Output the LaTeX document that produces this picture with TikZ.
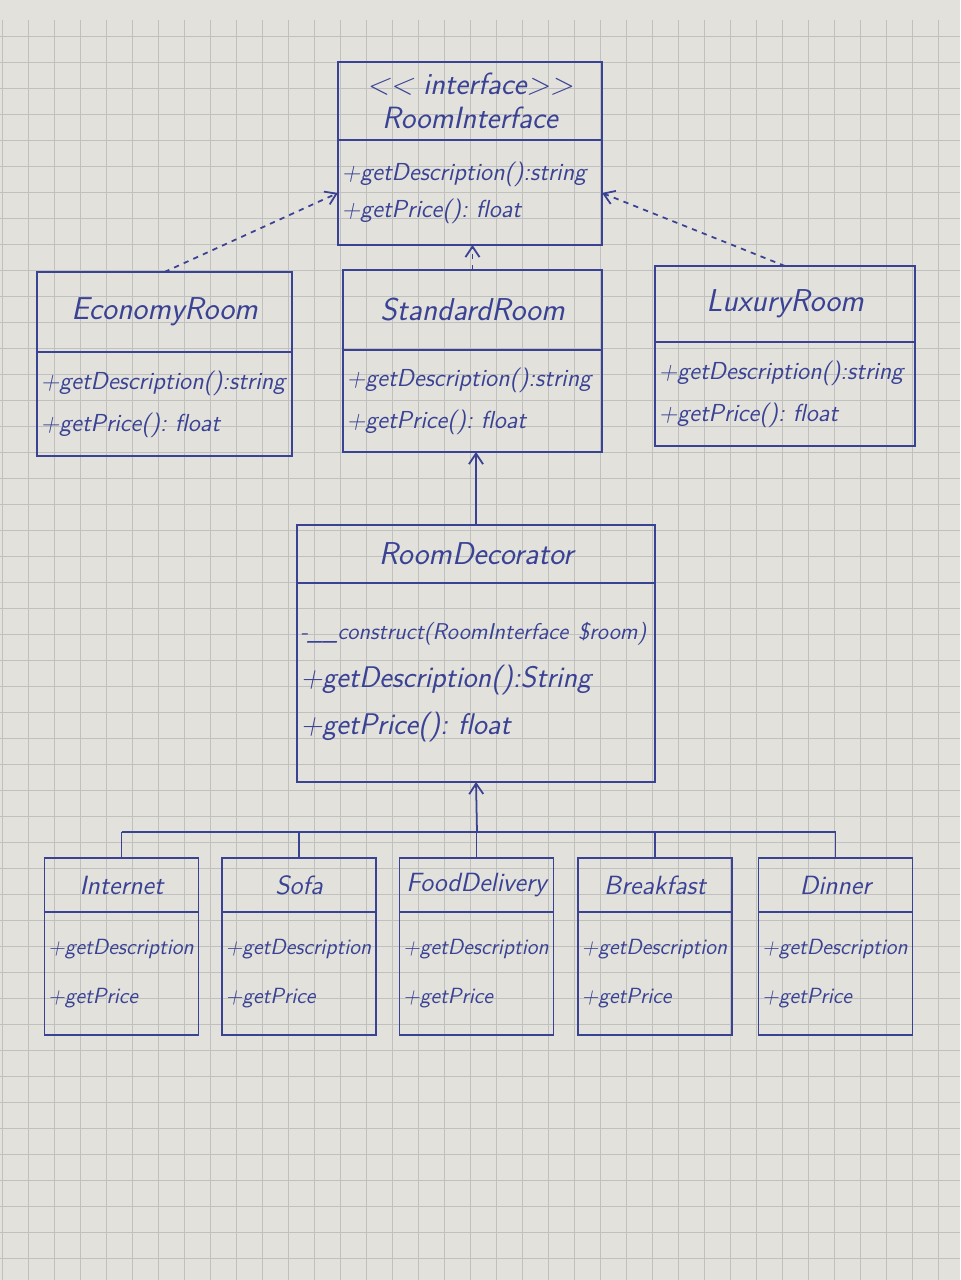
\documentclass[tikz,border=0pt]{standalone}
\usetikzlibrary{positioning,arrows.meta}

\definecolor{inkblue}{RGB}{58,66,148}
\definecolor{paper}{RGB}{226,225,220}
\definecolor{gridgray}{RGB}{192,192,190}

\tikzset{
  ink/.style={draw=inkblue, line width=1pt},
  gridline/.style={draw=gridgray, line width=0.5pt},
  classhead/.style={ink, rectangle, outer sep=0pt, inner sep=0pt, align=center,
    text=inkblue, font=\sffamily\itshape\fontsize{18}{21}\selectfont},
  classbody/.style={ink, rectangle, outer sep=0pt, inner xsep=2pt, inner ysep=0pt,
    align=left, text=inkblue, font=\sffamily\itshape\fontsize{14}{24}\selectfont},
  dep/.style={ink, dashed, ->},
  inherit/.style={ink, ->},
}

\begin{document}
\frenchspacing
\begin{tikzpicture}[x=0.02cm, y=-0.02cm, >={Straight Barb[length=6pt,width=8pt]}]
  % paper
  \fill[paper] (0,0) rectangle (960,1280);
  \useasboundingbox (0,0) rectangle (960,1280);
  \foreach \g in {2,28,...,960} \draw[gridline] (\g,20) -- (\g,1280);
  \foreach \g in {36,62,...,1280} \draw[gridline] (0,\g) -- (960,\g);

  % Interface
  \node (iface) [classhead, minimum width=5.28cm, minimum height=1.56cm,
    font=\sffamily\itshape\fontsize{17.5}{19}\selectfont] at (470,101)
    {<{}< interface>{}>\\RoomInterface};
  \node (ifacebody) [classbody, below=0pt of iface, text width=5.14cm, minimum height=2.1cm,
    font=\sffamily\itshape\fontsize{14}{21}\selectfont]
    {+getDescription():string\\+getPrice(): float};

  % Concrete rooms
  \node (econ) [classhead, minimum width=5.1cm, minimum height=1.6cm] at (164.5,312) {EconomyRoom};
  \node (econbody) [classbody, below=0pt of econ, text width=4.96cm, minimum height=2.08cm]
    {+getDescription():string\\+getPrice(): float};

  \node (std) [classhead, minimum width=5.18cm, minimum height=1.6cm] at (472.5,310) {StandardRoom};
  \node (stdbody) [classbody, below=0pt of std, text width=5.04cm, minimum height=2.04cm]
    {+getDescription():string\\+getPrice(): float};

  \node (lux) [classhead, minimum width=5.2cm, minimum height=1.52cm] at (785,304) {LuxuryRoom};
  \node (luxbody) [classbody, below=0pt of lux, text width=5.06cm, minimum height=2.08cm]
    {+getDescription():string\\+getPrice(): float};

  % Decorator
  \node (deco) [classhead, minimum width=7.16cm, minimum height=1.16cm] at (476,554) {RoomDecorator};
  \node (decobody) [classbody, below=0pt of deco, text width=7.02cm, minimum height=3.98cm,
    font=\sffamily\itshape\fontsize{17}{27}\selectfont]
    {{\fontsize{13}{27}\selectfont -\_\_construct(RoomInterface \$room)}\\
     +getDescription():String\\+getPrice(): float};

  % Decorations
  \node (inet) [classhead, minimum width=3.08cm, minimum height=1.08cm,
    font=\sffamily\itshape\fontsize{15}{17}\selectfont] at (121.5,885) {Internet};
  \node (inetbody) [classbody, below=0pt of inet, text width=2.94cm, minimum height=2.46cm,
    font=\sffamily\itshape\fontsize{12.5}{28}\selectfont] {+getDescription\\+getPrice};

  \node (sofa) [classhead, minimum width=3.08cm, minimum height=1.08cm,
    font=\sffamily\itshape\fontsize{15}{17}\selectfont] at (299,885) {Sofa};
  \node (sofabody) [classbody, below=0pt of sofa, text width=2.94cm, minimum height=2.46cm,
    font=\sffamily\itshape\fontsize{12.5}{28}\selectfont] {+getDescription\\+getPrice};

  \node (food) [classhead, minimum width=3.08cm, minimum height=1.08cm,
    font=\sffamily\itshape\fontsize{15}{17}\selectfont] at (476.5,885) {FoodDelivery};
  \node (foodbody) [classbody, below=0pt of food, text width=2.94cm, minimum height=2.46cm,
    font=\sffamily\itshape\fontsize{12.5}{28}\selectfont] {+getDescription\\+getPrice};

  \node (bfast) [classhead, minimum width=3.08cm, minimum height=1.08cm,
    font=\sffamily\itshape\fontsize{15}{17}\selectfont] at (655,885) {Breakfast};
  \node (bfastbody) [classbody, below=0pt of bfast, text width=2.94cm, minimum height=2.46cm,
    font=\sffamily\itshape\fontsize{12.5}{28}\selectfont] {+getDescription\\+getPrice};

  \node (dinner) [classhead, minimum width=3.08cm, minimum height=1.08cm,
    font=\sffamily\itshape\fontsize{15}{17}\selectfont] at (835.5,885) {Dinner};
  \node (dinnerbody) [classbody, below=0pt of dinner, text width=2.94cm, minimum height=2.46cm,
    font=\sffamily\itshape\fontsize{12.5}{28}\selectfont] {+getDescription\\+getPrice};

  % Edges
  \draw[dep] (econ.north) -- ([shift={(-0.16,0.5)}]ifacebody.west);
  \draw[dep] (std.north) -- (std.north |- ifacebody.south);
  \draw[dep] (lux.north) -- ([shift={(0.06,0.49)}]ifacebody.east);
  \draw[inherit] (deco.north) -- (deco.north |- stdbody.south);

  % decorations to decorator
  \coordinate (branch) at (477,832);
  \draw[inherit] (branch) -- (decobody.south);
  \draw[ink] (inet.north |- branch) -- (dinner.north |- branch);
  \draw[ink] (inet.north) -- (inet.north |- branch);
  \draw[ink] (sofa.north) -- (sofa.north |- branch);
  \draw[ink] (food.north) -- (food.north |- branch);
  \draw[ink] (bfast.north) -- (bfast.north |- branch);
  \draw[ink] (dinner.north) -- (dinner.north |- branch);
\end{tikzpicture}
\end{document}
